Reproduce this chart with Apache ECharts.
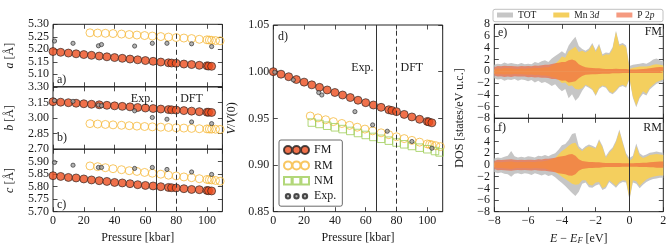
<!DOCTYPE html>
<html><head><meta charset="utf-8">
<script src="https://cdn.jsdelivr.net/npm/echarts@6/dist/echarts.min.js"></script>
<style>html,body{margin:0;padding:0;background:#fff}#c{width:670px;height:250px}</style>
</head><body><div id="c"></div><script>
// ---------------- data ----------------
const pFM = [0,5,10,15,20,25,30,35,40,45,50,55,60,65,70,75,77,80,85,90,95,100,101,103];
const pRM = [24,29,34,39,44.5,49.5,54.5,59.5,64.5,70,75,80,85,90,95,100,101.5,103,105.5,108.5];
const pNM = [25,30,35,40,45,50,55,60,65,70,75,80,85,90,95,100,105,108];
const pExp = [1,13,29.5,31.5,53,64.5,74,90,103];
const expLine = 67, dftLine = 80;

const aFM = [5.191,5.188,5.185,5.182,5.179,5.176,5.173,5.170,5.167,5.164,5.161,5.158,5.155,5.152,5.149,5.146,5.145,5.144,5.141,5.139,5.136,5.134,5.133,5.132];
const aRM = [5.266,5.265,5.264,5.263,5.261,5.259,5.257,5.255,5.253,5.251,5.249,5.247,5.245,5.243,5.240,5.238,5.237,5.236,5.235,5.234];
const aExp = [5.233,5.224,5.214,5.219,5.213,5.224,5.224,5.222,5.211];

const bFM = [3.157,3.152,3.147,3.142,3.137,3.132,3.127,3.122,3.117,3.112,3.107,3.101,3.096,3.091,3.086,3.081,3.079,3.076,3.071,3.066,3.061,3.056,3.055,3.053];
const bRM = [2.946,2.942,2.938,2.934,2.930,2.926,2.922,2.918,2.915,2.912,2.909,2.906,2.903,2.900,2.897,2.895,2.894,2.893,2.892,2.890];
const bExp = [3.168,3.160,3.125,3.118,3.069,3.005,2.988,2.962,2.946];

const cFM = [5.844,5.841,5.837,5.835,5.831,5.827,5.824,5.821,5.817,5.815,5.812,5.808,5.805,5.803,5.800,5.797,5.796,5.795,5.792,5.789,5.788,5.785,5.784,5.783];
const cRM = [5.883,5.880,5.876,5.872,5.868,5.864,5.861,5.857,5.854,5.850,5.846,5.843,5.839,5.836,5.832,5.829,5.828,5.827,5.825,5.822];
const cExp = [5.897,5.886,5.877,5.877,5.873,5.877,5.869,5.859,5.849];

const vFM = [1.000,0.9973,0.9946,0.9916,0.9888,0.9859,0.9832,0.9804,0.9777,0.9750,0.9723,0.9694,0.9668,0.9643,0.9618,0.9592,0.9584,0.9572,0.9542,0.9515,0.9490,0.9467,0.9462,0.9452];
const vRM = [0.9525,0.9505,0.9485,0.9465,0.9445,0.9425,0.9405,0.9385,0.9366,0.9345,0.9325,0.9303,0.9283,0.9264,0.9245,0.9226,0.9221,0.9216,0.9207,0.9197];
const vNM = [0.9455,0.9440,0.9421,0.9404,0.9385,0.9365,0.9343,0.9322,0.9301,0.9281,0.9261,0.9241,0.9222,0.9204,0.9186,0.9169,0.9150,0.9135];
const vExp = [0.9995,0.9912,0.9776,0.9750,0.9572,0.9430,0.9362,0.9252,0.9180];

const energy = [-8,-7.8,-7.6,-7.4,-7.2,-7,-6.8,-6.6,-6.4,-6.2,-6,-5.8,-5.6,-5.4,-5.2,-5,-4.8,-4.6,-4.4,-4.2,-4,-3.8,-3.6,-3.4,-3.2,-3,-2.8,-2.6,-2.4,-2.2,-2,-1.8,-1.6,-1.4,-1.2,-1,-0.8,-0.6,-0.4,-0.2,0,0.2,0.4,0.6,0.8,1,1.2,1.4,1.6,1.8,2];
const dosTicks = [8,6,4,2,0,-2,-4,-6,-8];

const fmTotUp = [1.1,1.3,1.2,1.5,1.3,1.4,1.3,1.2,1.4,1.2,1.3,1.2,1.6,1.4,1.7,1.9, 1.6,2.2,2.6,3.0,3.4,3.0,4.4,5.2,5.9,4.3, 3.8,3.5,3.9,4.8,3.6,4.7,2.9,3.2,3.1,4.1, 6.9,4.6,4.8,4.4,0.9, 1.1,1.2,1.3,1.4,1.3,1.6,2.0,2.2,1.9,1.7];
const fmMnUp = [0.3,0.5,0.45,0.55,0.5,0.5,0.45,0.4,0.5,0.45,0.5,0.5,0.6,0.55,0.6,0.7, 0.7,1.0,1.3,1.8,2.5,2.3,3.4,3.8,4.2,3.3, 3.5,3.2,3.6,4.5,3.3,4.4,2.6,2.9,2.8,3.8, 6.7,4.3,4.5,4.1,0.4, 0.6,0.7,0.8,0.8,0.8,0.9,1.1,1.2,1.1,1.0];
const fmPUp = [0.7,0.9,0.85,0.95,0.9,0.9,0.85,0.8,0.9,0.85,0.9,0.85,1.0,0.95,1.05,1.1, 1.1,1.25,1.35,1.45,1.6,1.6,1.9,2.0,1.8,1.2, 0.9,0.7,0.6,0.55,0.5,0.5,0.45,0.4,0.4,0.4, 0.45,0.4,0.4,0.4,0.3, 0.3,0.3,0.35,0.4,0.45,0.5,0.6,0.7,0.75,0.7];
const fmTotDn = [-1.2,-1.4,-1.3,-1.6,-1.4,-1.5,-1.3,-1.6,-1.4,-1.5,-1.7,-1.5,-1.9,-1.6,-2.0,-1.8, -2.1,-2.5,-2.2,-2.9,-3.4,-3.0,-4.6,-3.9,-5.0,-4.4, -3.3,-2.5,-2.8,-3.2,-4.2,-3.0,-2.6,-2.8,-3.6,-3.9, -3.4,-2.7,-2.5,-2.8,-1.4, -4.5,-6.1,-4.6,-3.8,-4.1,-3.1,-2.6,-2.1,-1.9,-1.8];
const fmMnDn = [-0.4,-0.5,-0.5,-0.55,-0.5,-0.55,-0.45,-0.5,-0.5,-0.55,-0.6,-0.55,-0.65,-0.6,-0.7,-0.7, -0.8,-1.0,-1.1,-1.5,-2.0,-1.9,-2.5,-2.4,-3.0,-3.1, -2.9,-2.3,-2.6,-3.0,-4.0,-2.8,-2.4,-2.6,-3.4,-3.7, -3.2,-2.5,-2.3,-2.6,-1.2, -4.3,-5.8,-4.3,-3.4,-3.8,-2.8,-2.3,-1.8,-1.6,-1.4];
const fmPDn = [-0.7,-0.9,-0.85,-0.95,-0.9,-0.95,-0.85,-0.9,-0.9,-0.9,-1.0,-0.95,-1.05,-1.0,-1.1,-1.1, -1.15,-1.3,-1.3,-1.45,-1.6,-1.55,-1.9,-1.8,-1.7,-1.2, -0.8,-0.6,-0.55,-0.5,-0.5,-0.45,-0.4,-0.4,-0.4,-0.35, -0.35,-0.35,-0.3,-0.3,-0.3, -0.3,-0.3,-0.3,-0.3,-0.3,-0.3,-0.3,-0.3,-0.3,-0.3];

const rmTotUp = [1.1,1.3,1.2,1.4,1.6,2.4,1.5,1.3,1.4,1.3,1.5,1.4,1.3,1.6,1.5,1.7, 1.5,1.8,2.0,2.6,3.4,3.6,4.3,5.3,5.5,3.2, 2.7,3.2,3.5,3.3,3.0,4.4,3.3,1.5,2.4,3.0, 4.2,6.1,4.0,2.0,1.2, 1.6,3.7,2.0,1.6,1.8,2.1,2.2,2.3,2.2,2.1];
const rmMnUp = [0.4,0.5,0.45,0.5,0.55,0.6,0.5,0.45,0.5,0.5,0.55,0.5,0.5,0.6,0.6,0.7, 0.8,1.0,1.2,1.8,2.4,2.8,3.3,3.7,3.8,2.8, 2.4,2.9,3.2,3.0,2.8,4.1,3.0,1.2,2.1,2.7, 3.9,5.8,3.7,1.7,0.7, 1.2,3.2,1.6,1.2,1.4,1.7,1.8,1.9,1.8,1.7];
const rmPUp = [0.7,0.9,0.85,0.9,0.95,1.0,0.9,0.85,0.9,0.85,0.9,0.9,0.85,1.0,0.95,1.05, 1.05,1.15,1.25,1.4,1.5,1.6,1.8,1.9,1.6,1.0, 0.7,0.6,0.5,0.5,0.45,0.45,0.4,0.35,0.35,0.35, 0.35,0.35,0.3,0.3,0.3, 0.3,0.35,0.35,0.4,0.4,0.45,0.5,0.55,0.6,0.6];
const rmTotDn = [-1.2,-1.4,-1.3,-1.5,-1.6,-2.0,-1.5,-1.4,-1.6,-1.4,-1.5,-1.7,-1.4,-1.6,-1.8,-1.6, -1.9,-1.7,-2.1,-2.6,-3.1,-3.6,-4.2,-4.8,-5.3,-4.6, -3.2,-3.0,-3.8,-3.9,-3.5,-3.3,-4.3,-4.0,-2.9,-3.4, -3.9,-3.2,-2.9,-3.0,-6.0, -3.0,-3.2,-4.0,-3.4,-2.9,-2.6,-2.4,-2.3,-2.2,-2.2];
const rmMnDn = [-0.4,-0.5,-0.5,-0.55,-0.6,-0.7,-0.55,-0.5,-0.55,-0.5,-0.55,-0.6,-0.5,-0.55,-0.6,-0.6, -0.8,-0.9,-1.2,-1.6,-2.0,-2.4,-2.8,-3.2,-3.4,-3.3, -2.6,-2.6,-3.4,-3.5,-3.0,-2.9,-4.0,-3.7,-2.6,-3.1, -3.6,-2.9,-2.6,-2.7,-5.8, -2.6,-2.8,-3.6,-3.0,-2.5,-2.2,-2.0,-1.9,-1.8,-1.8];
const rmPDn = [-0.7,-0.9,-0.85,-0.9,-0.95,-1.0,-0.9,-0.85,-0.9,-0.85,-0.9,-0.95,-0.85,-0.95,-1.0,-1.0, -1.05,-1.15,-1.25,-1.4,-1.5,-1.6,-1.8,-1.85,-1.6,-1.0, -0.7,-0.6,-0.5,-0.5,-0.45,-0.45,-0.4,-0.35,-0.35,-0.35, -0.35,-0.35,-0.3,-0.3,-0.3, -0.3,-0.3,-0.35,-0.35,-0.35,-0.4,-0.4,-0.45,-0.45,-0.45];

// ---------------- style ----------------
const FONT = "'Liberation Serif', 'DejaVu Serif', serif";
const TXT = '#1a1a1a';
const AX = '#222';
const FS = 12;
const C_FM = '#ec4e1e', C_RM = '#f6b93b', C_NM = '#9fcd58', C_EX = '#a0a0a0';
const C_TOT = '#c6c6c6', C_MN = '#f4cf5e', C_P = 'rgb(240,100,60)';

const grids = [
  {left:53, top:24.3, width:169.4, height:62.5},
  {left:53, top:86.8, width:169.4, height:62.4},
  {left:53, top:149.2, width:169.4, height:62.5},
  {left:273.3, top:25, width:169.4, height:186.7},
  {left:494.3, top:24.3, width:169, height:94},
  {left:494.3, top:118.3, width:169, height:93.4}
].map(g => Object.assign({show:true, borderColor:AX, borderWidth:1, backgroundColor:'rgba(0,0,0,0)', containLabel:false, outerBoundsMode:'none'}, g));

const fix2 = v => v.toFixed(2);
const intFmt = v => { const r = Math.round(v); return (r < 0 ? '\u2212' : '') + Math.abs(r); };
const tick = {show:true, inside:true, length:4.5, lineStyle:{color:AX, width:0.8}};
const lblBase = {margin:3.5, color:TXT, fontFamily:FONT, fontSize:FS, hideOverlap:false};

const xAxis = [], yAxis = [];
function mkAxes(list, gi, pos, mirror, min, max, interval, label, extra) {
  const a = {type:'value', gridIndex:gi, position:pos, min, max, interval,
    axisLine:{show:false, onZero:false}, splitLine:{show:false}, axisTick:tick,
    axisLabel: label ? Object.assign({}, lblBase, label) : {show:false}};
  Object.assign(a, extra || {});
  const b = {type:'value', gridIndex:gi, position:mirror, min, max, interval,
    axisLine:{show:false, onZero:false}, splitLine:{show:false}, axisTick:tick, axisLabel:{show:false}};
  list.push(a, b);
}
const nameStyle = {color:TXT, fontFamily:FONT, fontSize:FS, rich:{i:{fontStyle:'italic', fontFamily:FONT, fontSize:FS, color:TXT}}};
const pressName = {name:'Pressure [kbar]', nameLocation:'middle', nameGap:20, nameTextStyle:nameStyle};
const yName = (n, gap) => ({name:n, nameLocation:'middle', nameGap:gap, nameTextStyle:nameStyle});

// a,b,c
mkAxes(xAxis, 0, 'bottom', 'top', 0, 110, 20, null);
mkAxes(xAxis, 1, 'bottom', 'top', 0, 110, 20, null);
mkAxes(xAxis, 2, 'bottom', 'top', 0, 110, 20, {formatter:intFmt, showMaxLabel:false}, pressName);
mkAxes(yAxis, 0, 'left', 'right', 5.05, 5.30, 0.05, {formatter:fix2, showMinLabel:false, showMaxLabel:true, margin:4}, yName('{i|a} [Å]', 37));
mkAxes(yAxis, 1, 'left', 'right', 2.70, 3.30, 0.15, {formatter:fix2, showMinLabel:true, showMaxLabel:true, margin:4}, yName('{i|b} [Å]', 37));
mkAxes(yAxis, 2, 'left', 'right', 5.70, 5.95, 0.05, {formatter:fix2, showMinLabel:true, showMaxLabel:false, margin:4}, yName('{i|c} [Å]', 37));
// d
mkAxes(xAxis, 3, 'bottom', 'top', 0, 110, 20, {formatter:intFmt, showMaxLabel:false}, pressName);
mkAxes(yAxis, 3, 'left', 'right', 0.85, 1.05, 0.05, {formatter:fix2, showMinLabel:true, showMaxLabel:true, margin:4}, yName('{i|V}/{i|V}(0)', 35));
// e,f  (y tick labels of e/f are tight: drawn by the label pass below, at the axis' own tick values)
mkAxes(xAxis, 4, 'bottom', 'top', -8, 2, 2, null);
mkAxes(xAxis, 5, 'bottom', 'top', -8, 2, 2, {formatter:intFmt, showMinLabel:true, showMaxLabel:true},
  {name:'{i|E} \u2212 {i|E}{s|F} [eV]', nameLocation:'middle', nameGap:20,
   nameTextStyle:Object.assign({}, nameStyle, {rich:{i:{fontStyle:'italic', fontFamily:FONT, fontSize:FS, color:TXT, lineHeight:14},
     s:{fontStyle:'italic', fontFamily:FONT, fontSize:8.5, color:TXT, lineHeight:8, padding:[6,0,0,0], verticalAlign:'bottom'}}})});
mkAxes(yAxis, 4, 'left', 'right', -8, 8, 2, null);
mkAxes(yAxis, 5, 'left', 'right', -8, 8, 2, null);

const zip = (xs, ys) => xs.map((x, i) => [x, ys[i]]);
const base = {silent:true, animation:false};
const stFM = {symbol:'circle', symbolSize:8, itemStyle:{color:C_FM, borderColor:'#1e1e1e', borderWidth:0.8}};
const stRM = {symbol:'circle', symbolSize:8, itemStyle:{color:'rgba(255,255,255,0)', borderColor:C_RM, borderWidth:1}};
const stNM = {symbol:'rect', symbolSize:7.5, itemStyle:{color:'rgba(255,255,255,0)', borderColor:C_NM, borderWidth:1}};
const stEX = {symbol:'circle', symbolSize:4.2, itemStyle:{color:C_EX, borderColor:'#222', borderWidth:0.8}};
function vlines(vals) {
  return {symbol:['none','none'], silent:true, animation:false, label:{show:false},
    data: vals.map(v => ({xAxis:v[0], lineStyle:{color:'#333', width:1, type:v[1]}}))};
}
const pressLines = () => vlines([[expLine,'solid'],[dftLine,[5,3]]]);

const series = [];
function sc(name, gi, st, xs, ys, ml) {
  const s = Object.assign({type:'scatter', name, xAxisIndex:2*gi, yAxisIndex:2*gi, data:zip(xs, ys)}, base, st);
  if (ml) s.markLine = ml;
  series.push(s);
}
[[aFM,aRM,aExp],[bFM,bRM,bExp],[cFM,cRM,cExp]].forEach((d, gi) => {
  sc('FM', gi, stFM, pFM, d[0], pressLines());
  sc('RM', gi, stRM, pRM, d[1]);
  sc('Exp.', gi, stEX, pExp, d[2]);
});
sc('FM', 3, stFM, pFM, vFM, pressLines());
sc('RM', 3, stRM, pRM, vRM);
sc('NM', 3, stNM, pNM, vNM);
sc('Exp.', 3, stEX, pExp, vExp);

function area(name, gi, ys, color, opacity, ml) {
  const s = Object.assign({type:'line', name, xAxisIndex:2*gi, yAxisIndex:2*gi, data:zip(energy, ys),
    symbol:'none', showSymbol:false, color:color, lineStyle:{opacity:0, width:0},
    areaStyle:{color:color, opacity:opacity, origin:'auto'}}, base);
  if (ml) s.markLine = ml;
  series.push(s);
}
[[fmTotUp,fmTotDn,fmMnUp,fmMnDn,fmPUp,fmPDn],[rmTotUp,rmTotDn,rmMnUp,rmMnDn,rmPUp,rmPDn]].forEach((d, k) => {
  const gi = 4 + k;
  area('TOT', gi, d[0], C_TOT, 1, vlines([[0,'solid']]));
  area('TOT', gi, d[1], C_TOT, 1);
  area('Mn 3d', gi, d[2], C_MN, 1);
  area('Mn 3d', gi, d[3], C_MN, 1);
  area('P 2p', gi, d[4], C_P, 0.65);
  area('P 2p', gi, d[5], C_P, 0.65);
});

const icoBig = 'path://M0,4A4,4 0 1,1 8,4A4,4 0 1,1 0,4Z M8.5,4A4,4 0 1,1 16.5,4A4,4 0 1,1 8.5,4Z M17,4A4,4 0 1,1 25,4A4,4 0 1,1 17,4Z';
const icoSq = 'path://M0.3,0.3h7.4v7.4h-7.4Z M8.8,0.3h7.4v7.4h-7.4Z M17.3,0.3h7.4v7.4h-7.4Z';
const icoSmall = 'path://M0,0M25,8M1.8,4A2.2,2.2 0 1,1 6.2,4A2.2,2.2 0 1,1 1.8,4Z M10.3,4A2.2,2.2 0 1,1 14.7,4A2.2,2.2 0 1,1 10.3,4Z M18.8,4A2.2,2.2 0 1,1 23.2,4A2.2,2.2 0 1,1 18.8,4Z';

const option = {
  animation:false,
  backgroundColor:'#fff',
  textStyle:{fontFamily:FONT},
  grid:grids, xAxis, yAxis, series,
  legend:[
    {orient:'vertical', left:279, top:140, itemWidth:25, itemHeight:8, itemGap:3.4,
     padding:[4,6,4,4], borderColor:'#444', borderWidth:0.8, borderRadius:2, backgroundColor:'#fff',
     selectedMode:false, textStyle:{color:TXT, fontFamily:FONT, fontSize:FS, lineHeight:12},
     data:[{name:'FM', icon:icoBig}, {name:'RM', icon:icoBig}, {name:'NM', icon:icoSq}, {name:'Exp.', icon:icoSmall}]},
    {orient:'horizontal', left:497, top:10, itemWidth:16, itemHeight:5, itemGap:17, padding:0,
     selectedMode:false, icon:'rect',
     textStyle:{color:TXT, fontFamily:FONT, fontSize:9.5, rich:{i:{fontStyle:'italic', fontFamily:FONT, fontSize:9.5, color:TXT}}},
     formatter: n => n === 'Mn 3d' ? 'Mn 3{i|d}' : (n === 'P 2p' ? 'P 2{i|p}' : n),
     data:[{name:'TOT', itemStyle:{color:C_TOT}}, {name:'Mn 3d', itemStyle:{color:C_MN}}, {name:'P 2p', itemStyle:{color:'#f59a80'}}]}
  ]
};

const chart = echarts.init(document.getElementById('c'), null, {renderer:'canvas', width:670, height:250});
chart.setOption(option);

const font = FS + 'px ' + FONT;
function txt(text, x, y, align, vAlign) {
  return {type:'text', x, y, z:100, silent:true, style:{text, fill:TXT, font, textAlign:align || 'left', textVerticalAlign:vAlign || 'middle'}};
}
const px = (gi, v) => chart.convertToPixel({xAxisIndex:2*gi}, v);
const py = (gi, v) => chart.convertToPixel({yAxisIndex:2*gi}, v);
const g = [
  {type:'rect', shape:{x:493, y:9.3, width:170, height:12.4, r:2}, style:{fill:'#fff', stroke:'#b0b0b0', lineWidth:0.8}, z:1, silent:true},
  txt('a)', 57, 80), txt('b)', 57, 138), txt('c)', 57, 205),
  txt('d)', 278, 37), txt('e)', 498, 33), txt('f)', 498, 127.5),
  txt('FM', 662, 32, 'right'), txt('RM', 662, 127.5, 'right'),
  txt('Exp.', px(1, expLine) - 3, 98.5, 'right'), txt('DFT', px(1, dftLine) + 4, 98.5, 'left'),
  txt('Exp.', px(3, expLine) - 3, 68, 'right'), txt('DFT', px(3, dftLine) + 4, 68, 'left'),
  {type:'text', x:460, y:118, rotation:Math.PI/2, z:100, silent:true,
   style:{text:'DOS [states/eV u.c.]', fill:TXT, font, textAlign:'center', textVerticalAlign:'middle'}}
];
// e/f y tick labels, placed on the axis scale (f omits its top value, which coincides with e's bottom)
dosTicks.forEach(v => {
  g.push(txt(intFmt(v), 490, py(4, v), 'right'));
  if (v !== 8) g.push(txt(intFmt(v), 490, py(5, v), 'right'));
});
chart.setOption({graphic:g});
</script></body></html>
